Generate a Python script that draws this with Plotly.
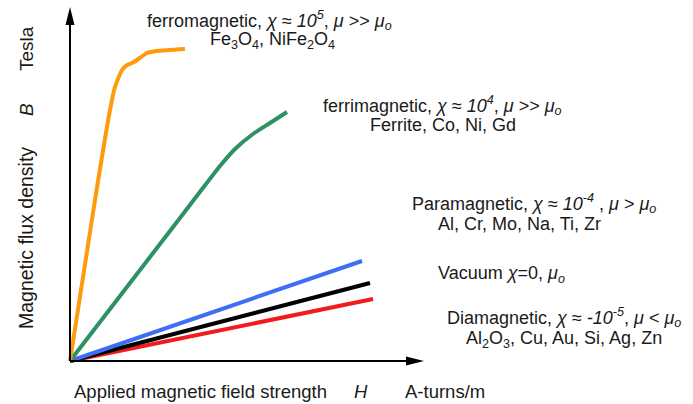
import plotly.graph_objects as go

# ---- data (H in arbitrary field units, B in arbitrary flux units; origin = 0,0) ----
dia_H = [0, 303]
dia_B = [0, 62]
vac_H = [0, 300]
vac_B = [0, 78]
para_H = [0, 292]
para_B = [0, 100]
ferri_H = [0, 80, 123, 150, 165, 183, 200, 217]
ferri_B = [0, 104, 160, 195, 212, 227, 238, 249]
ferro_H = [0, 25, 40, 45, 52, 57, 62, 67, 77, 87, 115]
ferro_B = [0, 161, 251, 274, 291, 296, 298, 301, 308, 310, 312]

H_AXIS_END = 354
B_AXIS_END = 354

FONT = "Liberation Sans, Arial, sans-serif"
TXT = "#1a1a1a"
FS = 18

fig = go.Figure()
series = [
    (dia_H, dia_B, "#f21b1b"),
    (vac_H, vac_B, "#000000"),
    (para_H, para_B, "#3d6ef5"),
    (ferri_H, ferri_B, "#2e9163"),
    (ferro_H, ferro_B, "#ff9a0d"),
]
for h, b, c in series:
    fig.add_trace(go.Scatter(x=h, y=b, mode="lines",
                             line=dict(color=c, width=4, shape="spline", smoothing=0.6),
                             hoverinfo="skip", showlegend=False))

# axes with arrows
shapes = [
    dict(type="line", x0=0, y0=0, x1=0, y1=B_AXIS_END - 14, line=dict(color="black", width=2)),
    dict(type="path", path=f"M -4.5 {B_AXIS_END-18} L 0 {B_AXIS_END} L 4.5 {B_AXIS_END-18} Z",
         fillcolor="black", line=dict(width=0)),
    dict(type="line", x0=0, y0=0, x1=H_AXIS_END - 14, y1=0, line=dict(color="black", width=2)),
    dict(type="path", path=f"M {H_AXIS_END-18} 4.5 L {H_AXIS_END} 0 L {H_AXIS_END-18} -4.5 Z",
         fillcolor="black", line=dict(width=0)),
]

OX, OY = 70, 361  # pixel position of origin


def px(x, y):
    return x - OX, OY - y


annots = []


def add_text(text, x, y, anchor="left", angle=0, size=FS):
    dx, dy = px(x, y)
    annots.append(dict(x=dx, y=dy, xref="x", yref="y", text=text, showarrow=False,
                       xanchor=anchor, yanchor="middle", textangle=angle,
                       font=dict(family=FONT, size=size, color=TXT)))


add_text("ferromagnetic, <i>χ</i> ≈ <i>10<sup>5</sup></i>, <i>μ</i> >> <i>μ<sub>o</sub></i>", 145, 20)
add_text("Fe<sub>3</sub>O<sub>4</sub>, NiFe<sub>2</sub>O<sub>4</sub>", 208, 40)
add_text("ferrimagnetic, <i>χ</i> ≈ <i>10<sup>4</sup></i>, <i>μ</i> >> <i>μ<sub>o</sub></i>", 321, 105)
add_text("Ferrite, Co, Ni, Gd", 368, 125)
add_text("Paramagnetic, <i>χ</i> ≈ <i>10<sup>-4</sup></i> , <i>μ</i> > <i>μ<sub>o</sub></i>", 410, 203)
add_text("Al, Cr, Mo, Na, Ti, Zr", 436, 224)
add_text("Vacuum <i>χ</i>=0, <i>μ<sub>o</sub></i>", 436, 274)
add_text("Diamagnetic, <i>χ</i> ≈ <i>-10<sup>-5</sup></i>, <i>μ</i> < <i>μ<sub>o</sub></i>", 445, 317)
add_text("Al<sub>2</sub>O<sub>3</sub>, Cu, Au, Si, Ag, Zn", 464, 339)
add_text("Applied magnetic field strength", 72, 391, size=18.5)
add_text("<i>H</i>", 352, 391, size=18.5)
add_text("A-turns/m", 403, 391, size=18.5)
add_text("Magnetic flux density", 26, 238, anchor="center", angle=-90, size=19.5)
add_text("<i>B</i>", 26, 110, anchor="center", angle=-90, size=19)
add_text("Tesla", 26, 49, anchor="center", angle=-90, size=19)

fig.update_layout(
    width=693, height=404,
    margin=dict(l=0, r=0, t=0, b=0),
    paper_bgcolor="white", plot_bgcolor="white",
    xaxis=dict(range=[-OX, 693 - OX], visible=False, fixedrange=True),
    yaxis=dict(range=[OY - 404, OY], visible=False, fixedrange=True),
    shapes=shapes, annotations=annots,
)
fig.write_html("out.html")
